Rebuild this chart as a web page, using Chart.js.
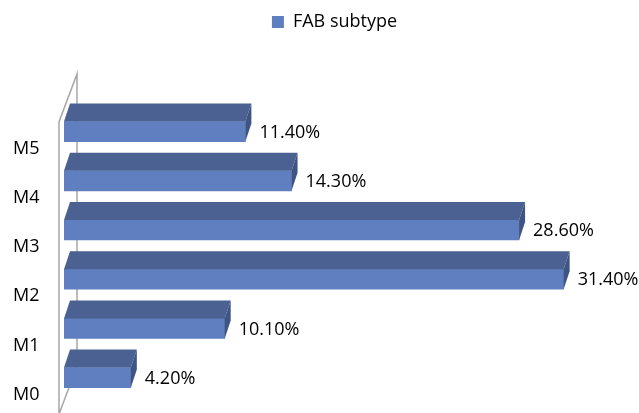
<!DOCTYPE html>
<html lang="en">
<head>
  <meta charset="UTF-8">
  <title>FAB subtype</title>
  <script src="https://cdn.jsdelivr.net/npm/chart.js"></script>
  <style>
    html, body { margin: 0; padding: 0; background: #fff; }
    #wrap { width: 639px; height: 413px; }
  </style>
</head>
<body>
  <div id="wrap"><canvas id="fabChart"></canvas></div>

  <script>
    // chart data
    const categories = ["M0", "M1", "M2", "M3", "M4", "M5"];
    const percentages = [4.2, 10.1, 31.4, 28.6, 14.3, 11.4];
    const seriesName = "FAB subtype";

    const frontColor = "#5f7fc0";
    const topColor = "#4a6191";
    const sideColor = "#3f5482";
    const depthX = 6;  // 3d offset of the bar tops
    const depthY = 18;

    // push the plot down below the legend
    const legendGap = {
      id: "legendGap",
      beforeInit(chart) {
        const origFit = chart.legend.fit;
        chart.legend.fit = function fit() {
          origFit.bind(chart.legend)();
          this.height += 66;
        };
      }
    };

    // grey "wall" behind the bars
    const wall = {
      id: "wall",
      beforeDatasetsDraw(chart) {
        const { ctx, chartArea } = chart;
        const front = chartArea.left - 5;
        const back = chartArea.left + 13;
        ctx.save();
        ctx.strokeStyle = "#a6a6a6";
        ctx.lineWidth = 1.5;
        ctx.beginPath();
        ctx.moveTo(front, chartArea.bottom + 12);
        ctx.lineTo(front, chartArea.top + 15);
        ctx.lineTo(back, chartArea.top - 33);
        ctx.lineTo(back, chartArea.bottom - 36);
        ctx.lineTo(front, chartArea.bottom + 12);
        ctx.stroke();
        ctx.restore();
      }
    };

    // top / side faces and the value labels
    const bar3d = {
      id: "bar3d",
      afterDatasetsDraw(chart) {
        const ctx = chart.ctx;
        const meta = chart.getDatasetMeta(0);
        ctx.save();
        meta.data.forEach((bar, i) => {
          const top = bar.y - bar.height / 2;
          const bottom = bar.y + bar.height / 2;
          ctx.fillStyle = topColor;
          ctx.beginPath();
          ctx.moveTo(bar.base, top);
          ctx.lineTo(bar.x, top);
          ctx.lineTo(bar.x + depthX, top - depthY);
          ctx.lineTo(bar.base + depthX, top - depthY);
          ctx.closePath();
          ctx.fill();

          ctx.fillStyle = sideColor;
          ctx.beginPath();
          ctx.moveTo(bar.x, top);
          ctx.lineTo(bar.x + depthX, top - depthY);
          ctx.lineTo(bar.x + depthX, bottom - depthY);
          ctx.lineTo(bar.x, bottom);
          ctx.closePath();
          ctx.fill();

          ctx.fillStyle = "#000";
          ctx.font = "18px 'Open Sans'";
          ctx.textAlign = "left";
          ctx.textBaseline = "middle";
          ctx.fillText(percentages[i].toFixed(2) + "%", bar.x + 14, bar.y + 1);
        });
        ctx.restore();
      }
    };

    new Chart(document.getElementById("fabChart"), {
      type: "bar",
      data: {
        labels: categories,
        datasets: [{
          label: seriesName,
          data: percentages,
          backgroundColor: frontColor,
          barThickness: 20,
        }],
      },
      options: {
        indexAxis: "y",
        responsive: true,
        maintainAspectRatio: false,
        animation: false,
        layout: { padding: { left: 13, right: 34, top: 0, bottom: 10 } },
        plugins: {
          legend: {
            position: "top",
            fullSize: false,
            labels: {
              boxWidth: 12,
              boxHeight: 12,
              padding: 13,
              color: "#000",
              font: { family: "'Open Sans'", size: 18 },
            },
          },
          tooltip: { enabled: false },
        },
        scales: {
          x: { display: false, min: 0, max: 34 },
          y: {
            reverse: true,
            grid: { display: false, drawTicks: false },
            border: { display: false },
            ticks: {
              color: "#000",
              font: { family: "'Open Sans'", size: 18 },
              padding: 0,
              crossAlign: "far",
              labelOffset: 17,
            },
            afterFit(scale) { scale.width = 51; },
          },
        },
      },
      plugins: [legendGap, wall, bar3d],
    });
  </script>
</body>
</html>
